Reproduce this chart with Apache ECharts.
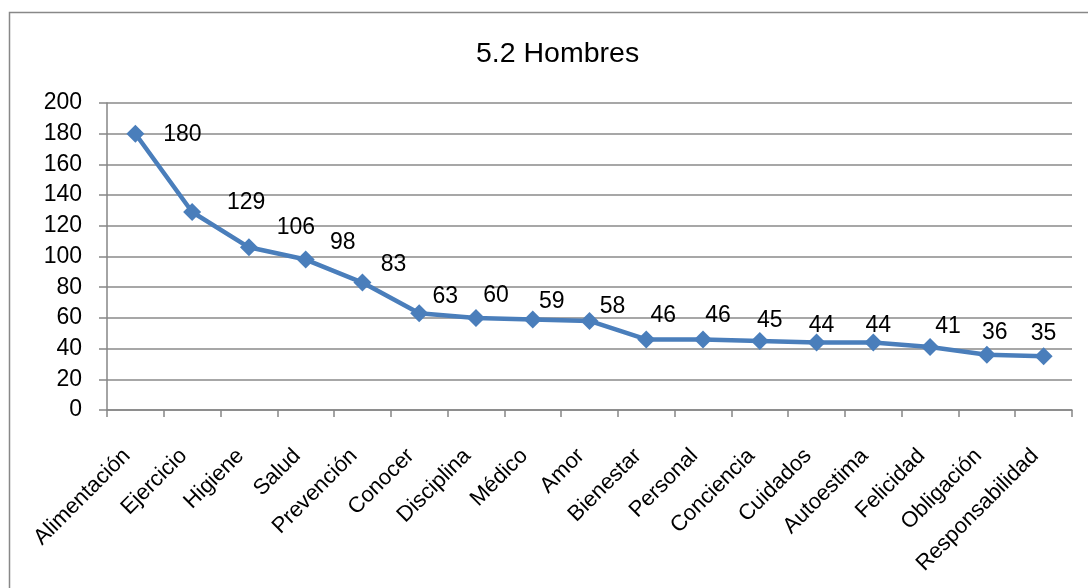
<!DOCTYPE html>
<html>
<head>
<meta charset="utf-8">
<script src="https://cdn.jsdelivr.net/npm/echarts@6/dist/echarts.min.js"></script>
<style>html,body{margin:0;padding:0;background:#fff}#c{width:1088px;height:588px}</style>
</head>
<body>
<div id="c"></div>
<script>
const title = '5.2 Hombres';
const categories = ['Alimentación','Ejercicio','Higiene','Salud','Prevención','Conocer','Disciplina','Médico','Amor','Bienestar','Personal','Conciencia','Cuidados','Autoestima','Felicidad','Obligación','Responsabilidad'];
const values = [180,129,106,98,83,63,60,59,58,46,46,45,44,44,41,36,35];
const yTicks = {min: 0, max: 200, interval: 20};
// label placement (style only), offset from point in pixels
const labelOffsets = [[47,1],[54,-9],[47,-20],[37,-17],[31,-18],[26,-17],[20,-22],[19,-18],[23,-14],[17,-24],[15,-24],[10,-20],[5,-17],[5,-17],[18,-20],[8,-22],[0,-23]];

const FONT = 'Liberation Sans';
const chart = echarts.init(document.getElementById('c'), null, {renderer: 'canvas'});
chart.setOption({
  backgroundColor: '#ffffff',
  animation: false,
  textStyle: {fontFamily: FONT},
  title: {
    text: title, left: 471, top: 35,
    textStyle: {fontFamily: FONT, fontSize: 28.5, fontWeight: 'normal', color: '#000'}
  },
  graphic: [{
    type: 'rect', left: 7, top: 10, z: -1, silent: true,
    shape: {width: 1200, height: 700},
    style: {fill: 'none', stroke: '#888888', lineWidth: 1.5}
  }],
  grid: {left: 107, right: 16, top: 103, bottom: 178},
  xAxis: {
    type: 'category', data: categories, boundaryGap: true,
    axisLine: {lineStyle: {color: '#868686', width: 1.5}},
    axisTick: {show: true, length: 7, alignWithLabel: false, lineStyle: {color: '#868686', width: 1.5}},
    axisLabel: {rotate: 45, interval: 0, margin: 34, padding: [0, 12, 0, 0], fontSize: 22, color: '#000', fontFamily: FONT}
  },
  yAxis: {
    type: 'value', min: yTicks.min, max: yTicks.max, interval: yTicks.interval,
    axisLine: {show: true, lineStyle: {color: '#868686', width: 1.5}},
    axisTick: {show: true, length: 8, lineStyle: {color: '#868686', width: 1.5}},
    axisLabel: {fontSize: 23, color: '#000', margin: 25, fontFamily: FONT},
    splitLine: {lineStyle: {color: '#8a8a8a', width: 1.5}}
  },
  series: [{
    type: 'line',
    data: values.map((v, i) => ({value: v, label: {offset: labelOffsets[i]}})),
    symbol: 'diamond', symbolSize: 18,
    lineStyle: {color: '#4a7ebb', width: 4.5},
    itemStyle: {color: '#4a7ebb'},
    label: {show: true, position: 'inside', fontSize: 23, color: '#000', fontFamily: FONT}
  }]
});
</script>
</body>
</html>
